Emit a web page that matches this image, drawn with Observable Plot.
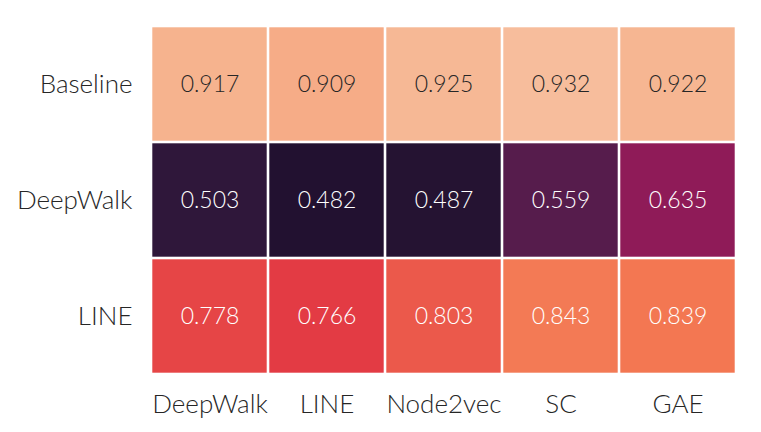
<!DOCTYPE html>
<html>
<head>
<meta charset="utf-8">
<script src="https://cdn.jsdelivr.net/npm/d3@7"></script>
<script src="https://cdn.jsdelivr.net/npm/@observablehq/plot@0.6"></script>
<style>
  html, body { margin: 0; padding: 0; background: #fff; }
  #chart { width: 761px; height: 432px; }
</style>
</head>
<body>
<div id="chart"></div>
<script>
const methods = ["DeepWalk", "LINE", "Node2vec", "SC", "GAE"];
const rows = ["Baseline", "DeepWalk", "LINE"];
const baselineValues = [0.917, 0.909, 0.925, 0.932, 0.922];
const deepwalkValues = [0.503, 0.482, 0.487, 0.559, 0.635];
const lineValues = [0.778, 0.766, 0.803, 0.843, 0.839];

// seaborn "rocket" colormap stops
const rocketStops = ["#03051a", "#35193e", "#701f57", "#ad1759", "#e13342", "#f37651", "#f6b48f", "#faebdd"];
const vmin = 0.432, vmax = 1.0;
const rocket = d3.piecewise(d3.interpolateRgb, rocketStops);

const seriesByRow = [baselineValues, deepwalkValues, lineValues];
const data = [];
rows.forEach((r, i) => methods.forEach((m, j) => data.push({row: r, method: m, value: seriesByRow[i][j]})));

function textColor(v) {
  const c = d3.rgb(rocket((v - vmin) / (vmax - vmin)));
  const lin = x => { x /= 255; return x <= 0.03928 ? x / 12.92 : Math.pow((x + 0.055) / 1.055, 2.4); };
  const lum = 0.2126 * lin(c.r) + 0.7152 * lin(c.g) + 0.0722 * lin(c.b);
  return lum > 0.408 ? "#262626" : "#ffffff";
}

const chart = Plot.plot({
  width: 761,
  height: 432,
  marginLeft: 151,
  marginRight: 25,
  marginTop: 25,
  marginBottom: 57,
  style: {fontFamily: "Lato, sans-serif", background: "#fff"},
  x: {domain: methods, padding: 0, label: null, axis: null},
  y: {domain: rows, padding: 0, label: null, axis: null},
  color: {type: "linear", domain: [vmin, vmax], interpolate: rocket},
  marks: [
    Plot.cell(data, {x: "method", y: "row", fill: "value", inset: 1.3}),
    Plot.text(data, {x: "method", y: "row", text: d => d.value.toFixed(3), fill: d => textColor(d.value), fontSize: 23, fontWeight: 300}),
    Plot.axisX({domain: methods, tickSize: 0, tickPadding: 19, fontSize: 26, fontWeight: 300, color: "#262626", label: null}),
    Plot.axisY({domain: rows, tickSize: 0, tickPadding: 19, fontSize: 26, fontWeight: 300, color: "#262626", label: null})
  ]
});
document.getElementById("chart").appendChild(chart);
</script>
</body>
</html>
